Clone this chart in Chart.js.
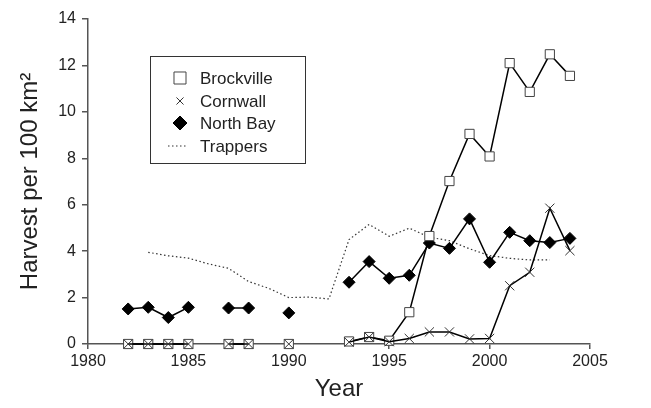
<!DOCTYPE html>
<html>
<head>
<meta charset="utf-8">
<script src="https://cdn.jsdelivr.net/npm/chart.js@4.4.1/dist/chart.umd.min.js"></script>
<style>
  html, body { margin: 0; padding: 0; background: #fff; }
  #wrap { width: 651px; height: 408px; position: relative; }
</style>
</head>
<body>
<div id="wrap"><canvas id="harvestChart"></canvas></div>
<script>
// ── Data ───────────────────────────────────────────
const years      = [1982, 1983, 1984, 1985, 1986, 1987, 1988, 1989, 1990, 1991, 1992, 1993,
                    1994, 1995, 1996, 1997, 1998, 1999, 2000, 2001, 2002, 2003, 2004];
const brockville = [0, 0, 0, 0, null, 0, 0, null, 0, null, null, 0.11,
                    0.3, 0.14, 1.37, 4.65, 7.02, 9.05, 8.08, 12.1, 10.86, 12.48, 11.55];
const cornwall   = [0, 0, 0, 0, null, 0, 0, null, 0, null, null, 0.08,
                    0.3, 0.1, 0.24, 0.52, 0.52, 0.22, 0.24, 2.51, 3.09, 5.85, 4.02];
const northBay   = [1.51, 1.58, 1.14, 1.58, null, 1.55, 1.55, null, 1.34, null, null, 2.66,
                    3.55, 2.83, 2.96, 4.35, 4.12, 5.39, 3.52, 4.81, 4.45, 4.37, 4.55];
const trappers   = [null, 3.95, 3.8, 3.7, 3.45, 3.26, 2.69, 2.4, 2.0, 2.02, 1.94, 4.5,
                    5.15, 4.64, 4.99, 4.6, 4.45, 4.1, 3.81, 3.69, 3.62, 3.62, null];
const xTicks = [1980, 1985, 1990, 1995, 2000, 2005];
const yTicks = [0, 2, 4, 6, 8, 10, 12, 14];

const FONT = 'Liberation Sans, Arial, Helvetica, sans-serif';
const INK  = '#222';
const AXIS = '#555';

const pts = arr => years.map((y, i) => ({ x: y, y: arr[i] }));

// ── Legend drawn inside the plot, boxed ────────────
const boxLegend = {
  id: 'boxLegend',
  afterDraw(chart) {
    const ctx = chart.ctx;
    const bx = 150, by = 56, bw = 155, bh = 107;
    ctx.save();
    ctx.fillStyle = '#fff';
    ctx.fillRect(bx, by, bw, bh);
    ctx.strokeStyle = '#333';
    ctx.lineWidth = 1;
    ctx.strokeRect(bx + 0.5, by + 0.5, bw, bh);
    const rows = [78, 101, 123, 146];
    const sizes = [8.5, 5, 7, 0];
    chart.data.datasets.forEach((ds, i) => {
      const cy = rows[i], cx = 180;
      if (ds.pointStyle) {
        ctx.fillStyle = ds.pointBackgroundColor;
        ctx.strokeStyle = ds.pointBorderColor;
        ctx.lineWidth = ds.pointBorderWidth;
        Chart.helpers.drawPoint(ctx, {
          pointStyle: ds.pointStyle, radius: sizes[i], rotation: 0,
          borderWidth: ds.pointBorderWidth
        }, cx, cy);
      } else {
        ctx.strokeStyle = ds.borderColor;
        ctx.lineWidth = ds.borderWidth;
        ctx.setLineDash(ds.borderDash);
        ctx.beginPath();
        ctx.moveTo(168, cy);
        ctx.lineTo(188, cy);
        ctx.stroke();
        ctx.setLineDash([]);
      }
      ctx.fillStyle = INK;
      ctx.font = '17px ' + FONT;
      ctx.textBaseline = 'middle';
      ctx.textAlign = 'left';
      ctx.fillText(ds.label, 200, cy + 1);
    });
    ctx.restore();
  }
};

new Chart(document.getElementById('harvestChart'), {
  type: 'line',
  data: {
    datasets: [
      {
        label: 'Brockville',
        data: pts(brockville),
        order: 1,
        borderColor: '#000', borderWidth: 1.5,
        pointStyle: 'rect', pointRadius: 6.5, pointBorderWidth: 1,
        pointBackgroundColor: '#fff', pointBorderColor: '#444',
        clip: false, tension: 0
      },
      {
        label: 'Cornwall',
        data: pts(cornwall),
        order: 0,
        borderColor: '#000', borderWidth: 1.5,
        pointStyle: 'crossRot', pointRadius: 6.5, pointBorderWidth: 1,
        pointBackgroundColor: '#fff', pointBorderColor: '#333',
        clip: false, tension: 0
      },
      {
        label: 'North Bay',
        data: pts(northBay),
        order: 2,
        borderColor: '#000', borderWidth: 1.5,
        pointStyle: 'rectRot', pointRadius: 6, pointBorderWidth: 1,
        pointBackgroundColor: '#000', pointBorderColor: '#000',
        clip: false, tension: 0
      },
      {
        label: 'Trappers',
        data: pts(trappers),
        order: 3,
        borderColor: '#333', borderWidth: 1.2, borderDash: [1.5, 2.5],
        pointRadius: 0,
        clip: false, tension: 0
      }
    ]
  },
  options: {
    responsive: true, maintainAspectRatio: false, animation: false,
    layout: { padding: { top: 19, right: 61, left: 0, bottom: 0 } },
    plugins: { legend: { display: false }, tooltip: { enabled: false } },
    scales: {
      x: {
        type: 'linear', suggestedMin: 1980, suggestedMax: 2005, bounds: 'data',
        afterFit: s => { s.height = 64; },
        afterBuildTicks: s => { s.ticks = xTicks.map(v => ({ value: v })); },
        border: { color: AXIS, width: 1.5 },
        grid: { drawOnChartArea: false, tickLength: 5, color: AXIS, lineWidth: 1.5 },
        ticks: { color: INK, font: { family: FONT, size: 16 }, padding: 3, maxRotation: 0,
                 callback: v => String(v) },
        title: { display: true, text: 'Year', color: INK, font: { family: FONT, size: 24 }, padding: { top: 2 } }
      },
      y: {
        min: 0, max: 14,
        afterFit: s => { s.width = 88; },
        afterBuildTicks: s => { s.ticks = yTicks.map(v => ({ value: v })); },
        border: { color: AXIS, width: 1.5 },
        grid: { drawOnChartArea: false, tickLength: 6, color: AXIS, lineWidth: 1.5 },
        ticks: { color: INK, font: { family: FONT, size: 16 }, padding: 6 },
        title: { display: true, text: 'Harvest per 100 km²', color: INK, font: { family: FONT, size: 24 }, padding: { top: 16 } }
      }
    }
  },
  plugins: [boxLegend]
});
</script>
</body>
</html>
